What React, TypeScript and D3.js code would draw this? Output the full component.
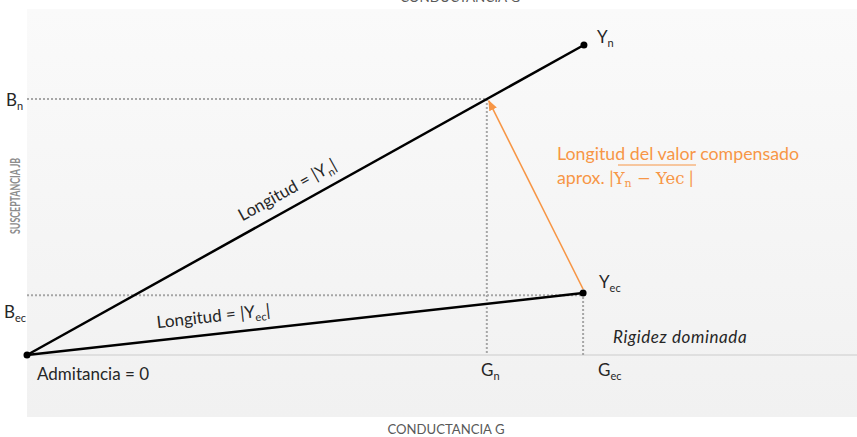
import React from "react";
import * as d3 from "d3";

// Data (arbitrary conductance / susceptance units)
const origin = { g: 0, b: 0 };
const pointNames = ["Yn", "Yec"];
const pointG = [6.71, 6.7];
const pointB = [8.96, 1.79];
const projG = [5.54, 6.7]; // Gn, Gec
const projB = [7.4, 1.73]; // Bn, Bec
const gDomain = [0, 10];
const bDomain = [0, 10];

const W = 857;
const H = 437;
const FONT = "Lato, 'Open Sans', sans-serif";
const ORANGE = "#F79646";

export default function App() {
  const x = d3.scaleLinear().domain(gDomain).range([27, 857]);
  const y = d3.scaleLinear().domain(bDomain).range([355, 9]);
  const line = d3.line<[number, number]>().x((d) => x(d[0])).y((d) => y(d[1]));

  const ox = x(origin.g), oy = y(origin.b);
  const ynX = x(pointG[0]), ynY = y(pointB[0]);
  const yecX = x(pointG[1]), yecY = y(pointB[1]);
  const angN = (Math.atan2(ynY - oy, ynX - ox) * 180) / Math.PI;
  const angEc = (Math.atan2(yecY - oy, yecX - ox) * 180) / Math.PI;

  const ax0 = yecX, ay0 = yecY - 4;
  const ax1 = x(projG[0]) + 2, ay1 = y(projB[0]) + 2;

  const dotted = { stroke: "#a6a6a6", strokeWidth: 2, strokeDasharray: "2 2" };

  return (
    <svg width={W} height={H} style={{ position: "absolute", left: 0, top: 0 }}>
      <defs>
        <linearGradient id="bg" x1="0" y1="0" x2="0" y2="1">
          <stop offset="0" stopColor="#fafafa" />
          <stop offset="1" stopColor="#f1f1f1" />
        </linearGradient>
        <marker id="arr" viewBox="0 0 10 10" refX="9" refY="5" markerWidth="7" markerHeight="7" orient="auto">
          <path d="M0,1 L10,5 L0,9 Z" fill={ORANGE} />
        </marker>
      </defs>
      <rect x={0} y={0} width={W} height={H} fill="#fff" />
      <rect x={27} y={9} width={830} height={408} fill="url(#bg)" />
      <line x1={27} x2={857} y1={oy} y2={oy} stroke="#d9d9d9" strokeWidth={1.5} />

      {/* dotted projections */}
      <line x1={27} x2={x(projG[0])} y1={y(projB[0])} y2={y(projB[0])} {...dotted} />
      <line x1={27} x2={yecX} y1={y(projB[1])} y2={y(projB[1])} {...dotted} />
      <line x1={x(projG[0])} x2={x(projG[0])} y1={y(projB[0])} y2={oy} {...dotted} />
      <line x1={x(projG[1])} x2={x(projG[1])} y1={yecY} y2={oy} {...dotted} />

      {/* vectors */}
      {pointG.map((g, i) => (
        <path key={i} d={line([[origin.g, origin.b], [g, pointB[i]]]) || ""} stroke="#000" strokeWidth={2.5} fill="none" />
      ))}
      <circle cx={ox} cy={oy} r={3.5} fill="#000" />
      {pointG.map((g, i) => (
        <circle key={pointNames[i]} cx={x(g)} cy={y(pointB[i])} r={3.5} fill="#000" />
      ))}

      {/* orange arrow */}
      <line x1={ax0} y1={ay0} x2={ax1} y2={ay1} stroke={ORANGE} strokeWidth={1.5} markerEnd="url(#arr)" />

      <g fontFamily={FONT} fill="#262626" fontSize={17}>
        <text x={597} y={43}>Y<tspan fontSize={11} dy={4}>n</tspan></text>
        <text x={599} y={288}>Y<tspan fontSize={11} dy={4}>ec</tspan></text>
        <text x={6} y={106}>B<tspan fontSize={11} dy={4}>n</tspan></text>
        <text x={4} y={318}>B<tspan fontSize={11} dy={4}>ec</tspan></text>
        <text x={37} y={380}>Admitancia = 0</text>
        <text x={481} y={376}>G<tspan fontSize={11} dy={4}>n</tspan></text>
        <text x={598} y={376}>G<tspan fontSize={11} dy={4}>ec</tspan></text>
        <text x={613} y={343} fontStyle="italic" letterSpacing={0.6}>Rigidez dominada</text>
        <text transform={`translate(290,195) rotate(${angN})`} textAnchor="middle">
          Longitud = |Y<tspan fontSize={11} dy={4}>n</tspan><tspan dy={-4}>|</tspan>
        </text>
        <text transform={`translate(214,322) rotate(${angEc})`} textAnchor="middle">
          Longitud = |Y<tspan fontSize={11} dy={4}>ec</tspan><tspan dy={-4}>|</tspan>
        </text>
      </g>

      <g fill={ORANGE} fontSize={17.8}>
        <text x={557} y={160} fontFamily={FONT}>Longitud del valor compensado</text>
        <text x={557} y={184} fontFamily={FONT}>
          aprox. |
          <tspan fontFamily="'DejaVu Serif', serif" fontSize={16.5}>Y<tspan fontSize={11} dy={3}>n</tspan><tspan dy={-3}> −  Yec</tspan></tspan>
          <tspan> |</tspan>
        </text>
        <line x1={618} x2={696} y1={165} y2={165} stroke={ORANGE} strokeWidth={1} />
      </g>

      <g fontFamily={FONT} fill="#595959" fontSize={13}>
        <text x={446} y={434} textAnchor="middle" textLength={117} lengthAdjust="spacingAndGlyphs">CONDUCTANCIA G</text>
        <text x={460} y={2} textAnchor="middle" textLength={120} lengthAdjust="spacingAndGlyphs">CONDUCTANCIA G</text>
        <text transform="translate(20,196) rotate(-90)" textAnchor="middle" fill="#8c8c8c" fontSize={12.5} fontWeight="bold" textLength={76} lengthAdjust="spacingAndGlyphs">SUSCEPTANCIA JB</text>
      </g>
    </svg>
  );
}
